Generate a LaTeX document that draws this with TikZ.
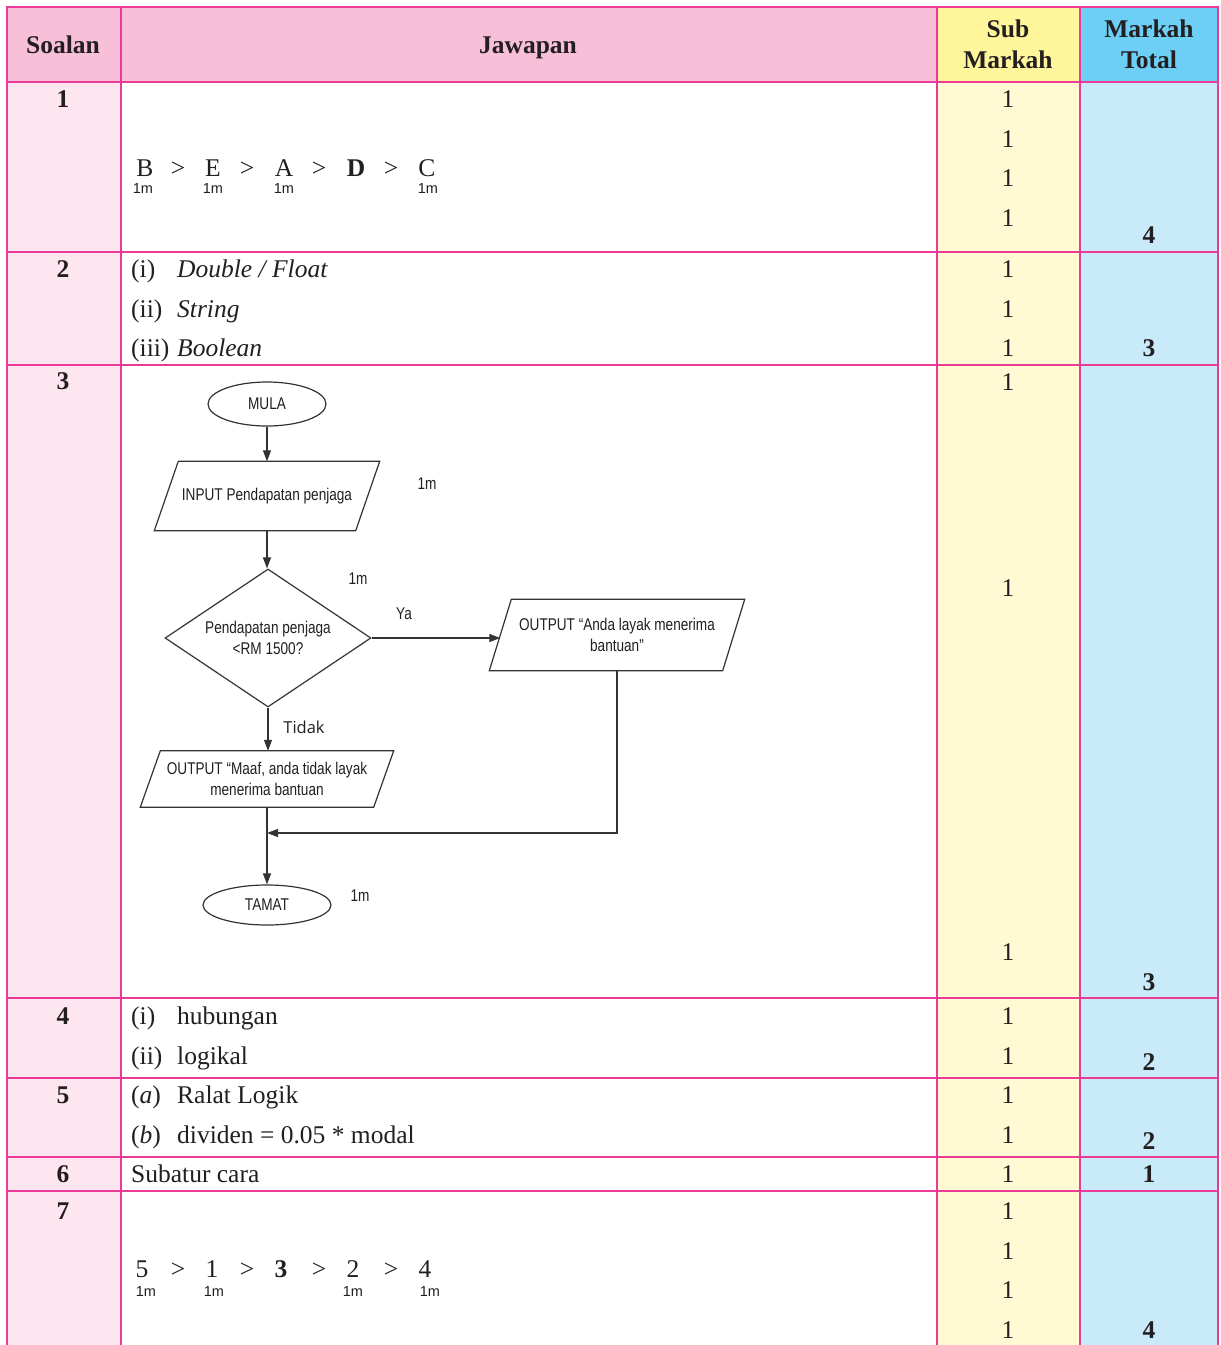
\documentclass[tikz,border=0pt]{standalone}
\usepackage{fontspec}
\setmainfont{Liberation Serif}
\newfontfamily\fcfont[FakeStretch=0.8]{Liberation Sans}
\newfontfamily\plainsans{Liberation Sans}
\newfontfamily\tidakfont{Open Sans}
\usetikzlibrary{shapes.geometric,arrows.meta}
\definecolor{bordermag}{HTML}{EC3A98}
\definecolor{hdrpink}{HTML}{F7BFD8}
\definecolor{colpink}{HTML}{FDE6F0}
\definecolor{hdryel}{HTML}{FFF59B}
\definecolor{colyel}{HTML}{FFFAD3}
\definecolor{hdrblue}{HTML}{6DCFF5}
\definecolor{colblue}{HTML}{C8EAF9}
\definecolor{fcline}{HTML}{333333}
\definecolor{txtc}{HTML}{231F20}
\tikzset{
  txt/.style={font=\fontsize{25.5}{30}\selectfont, anchor=base west, inner sep=0, text=txtc},
  numb/.style={font=\fontsize{25.5}{30}\selectfont\bfseries, anchor=base, inner sep=0, text=txtc},
  subm/.style={font=\fontsize{25.5}{30}\selectfont, anchor=base, inner sep=0, text=txtc},
  hdr/.style={font=\fontsize{25.5}{31}\selectfont\bfseries, anchor=base, inner sep=0, text=txtc},
  mk/.style={font=\plainsans\fontsize{14.5}{16}\selectfont, anchor=base, inner sep=0, text=txtc},
  fclabel/.style={font=\fcfont\fontsize{17}{21}\selectfont, inner sep=0, text=txtc},
  fcbox/.style={font=\fcfont\fontsize{17}{21}\selectfont, draw=fcline, line width=1.2pt, align=center, inner sep=2pt, text=txtc},
  term/.style={fcbox, ellipse},
  iobox/.style={font=\fcfont\fontsize{17}{21}\selectfont, align=center, inner sep=0pt, text=txtc},
  fcshape/.style={draw=fcline, line width=1.2pt},
  decbox/.style={fcbox, diamond, inner sep=0pt},
  arr/.style={draw=fcline, line width=1.2pt, -{Triangle[length=11pt,width=8pt]}},
  grid/.style={draw=bordermag, line width=2pt}
}
\begin{document}
\begin{tikzpicture}[x=1pt,y=-1pt]
\useasboundingbox (0,0) rectangle (1221,1345);
% fills
\fill[hdrpink] (7,7) rectangle (937,82);
\fill[hdryel] (937,7) rectangle (1080,82);
\fill[hdrblue] (1080,7) rectangle (1218,82);
\fill[colpink] (7,82) rectangle (121,1345);
\fill[white] (121,82) rectangle (937,1345);
\fill[colyel] (937,82) rectangle (1080,1345);
\fill[colblue] (1080,82) rectangle (1218,1345);
% grid lines
\foreach \yy in {7,82,252,365,998,1078,1157,1191}
  \draw[grid] (7,\yy) -- (1218,\yy);
\foreach \xx in {7,121,937,1080,1218}
  \draw[grid] (\xx,6) -- (\xx,1345);
% header
\node[hdr] (hSoal) at (63,53) {Soalan};
\node[hdr] (hJaw) at (528,53) {Jawapan};
\node[hdr] (hSubA) at (1008,37) {Sub};
\node[hdr] (hSubB) at (1008,68) {Markah};
\node[hdr] (hTotA) at (1149,37) {Markah};
\node[hdr] (hTotB) at (1149,68) {Total};
% question numbers
\foreach \q/\yy in {1/107,2/277,3/389,4/1024,5/1103,6/1182,7/1219}
  \node[numb] (q\q) at (63,\yy) {\q};
% sub marks
\foreach \yy [count=\i] in {107,147,186,226,277,317,356,390,596,960,1024,1064,1103,1143,1182,1219,1259,1298,1338}
  \node[subm] (s\i) at (1008,\yy) {1};
% totals
\foreach \t/\yy [count=\i] in {4/243,3/356,3/990,2/1070,2/1149,1/1182,4/1338}
  \node[numb] (t\i) at (1149,\yy) {\t};
% row 1
\foreach \c/\xx [count=\i] in {B/145,>/178,E/213,>/247,A/284,>/319,\textbf{D}/356,>/391,C/427}
  \node[subm] (ra\i) at (\xx,176) {\c};
\foreach \xx [count=\i] in {143,213,284,428}
  \node[mk] (rm\i) at (\xx,193) {1m};
% row 2
\node[txt] (r2a) at (131,277) {(i)};
\node[txt] (r2b) at (177,277) {\textit{Double / Float}};
\node[txt] (r2c) at (131,317) {(ii)};
\node[txt] (r2d) at (177,317) {\textit{String}};
\node[txt] (r2e) at (131,356) {(iii)};
\node[txt] (r2f) at (177,356) {\textit{Boolean}};
% row 4
\node[txt] (r4a) at (131,1024) {(i)};
\node[txt] (r4b) at (177,1024) {hubungan};
\node[txt] (r4c) at (131,1064) {(ii)};
\node[txt] (r4d) at (177,1064) {logikal};
% row 5
\node[txt] (r5a) at (131,1103) {(\textit{a})};
\node[txt] (r5b) at (177,1103) {Ralat Logik};
\node[txt] (r5c) at (131,1143) {(\textit{b})};
\node[txt] (r5d) at (177,1143) {dividen = 0.05 * modal};
% row 6
\node[txt] (r6a) at (131,1182) {Subatur cara};
% row 7
\foreach \c/\xx [count=\i] in {5/142,>/178,1/212,>/247,\textbf{3}/281,>/319,2/353,>/391,4/425}
  \node[subm] (rb\i) at (\xx,1277) {\c};
\foreach \xx [count=\i] in {146,214,353,430}
  \node[mk] (rn\i) at (\xx,1296) {1m};
% flowchart
\node[term, minimum width=118, minimum height=44] (mula) at (267,404) {MULA};
\node[iobox, minimum width=201, minimum height=69] (inp) at (267,496) {INPUT Pendapatan penjaga};
\draw[fcshape] ([xshift=-12pt]inp.south west) -- ([xshift=-12pt]inp.south east) -- ([xshift=12pt]inp.north east) -- ([xshift=12pt]inp.north west) -- cycle;
\node[decbox, aspect=1.5, minimum width=206, minimum height=138, align=center] (dec) at (268,638) {Pendapatan penjaga\\<RM 1500?};
\node[iobox, minimum width=233, minimum height=71] (out1) at (617,635) {OUTPUT “Anda layak menerima\\bantuan”};
\draw[fcshape] ([xshift=-11pt]out1.south west) -- ([xshift=-11pt]out1.south east) -- ([xshift=11pt]out1.north east) -- ([xshift=11pt]out1.north west) -- cycle;
\node[iobox, minimum width=233, minimum height=56] (out2) at (267,779) {OUTPUT “Maaf, anda tidak layak\\menerima bantuan};
\draw[fcshape] ([xshift=-10pt]out2.south west) -- ([xshift=-10pt]out2.south east) -- ([xshift=10pt]out2.north east) -- ([xshift=10pt]out2.north west) -- cycle;
\node[term, minimum width=128, minimum height=40] (tamat) at (267,905) {TAMAT};
\node[fclabel] (m1) at (427,484) {1m};
\node[fclabel] (m2) at (358,579) {1m};
\node[fclabel] (ya) at (404,614) {Ya};
\node[fclabel, font=\tidakfont\fontsize{16.5}{20}\selectfont] (tidak) at (304,727) {Tidak};
\node[fclabel] (m3) at (360,896) {1m};
\coordinate (join) at (267,833);
\draw[arr] (mula) -- (inp);
\draw[arr] (inp.south) -- (inp.south |- dec.north);
\draw[arr] (dec.east) -- (dec.east -| out1.west);
\draw[arr] (dec.south) -- (dec.south |- out2.north);
\draw[arr] (out1.south) |- (join);
\draw[arr] (out2.south) -- (tamat.north);
\end{tikzpicture}
\end{document}
